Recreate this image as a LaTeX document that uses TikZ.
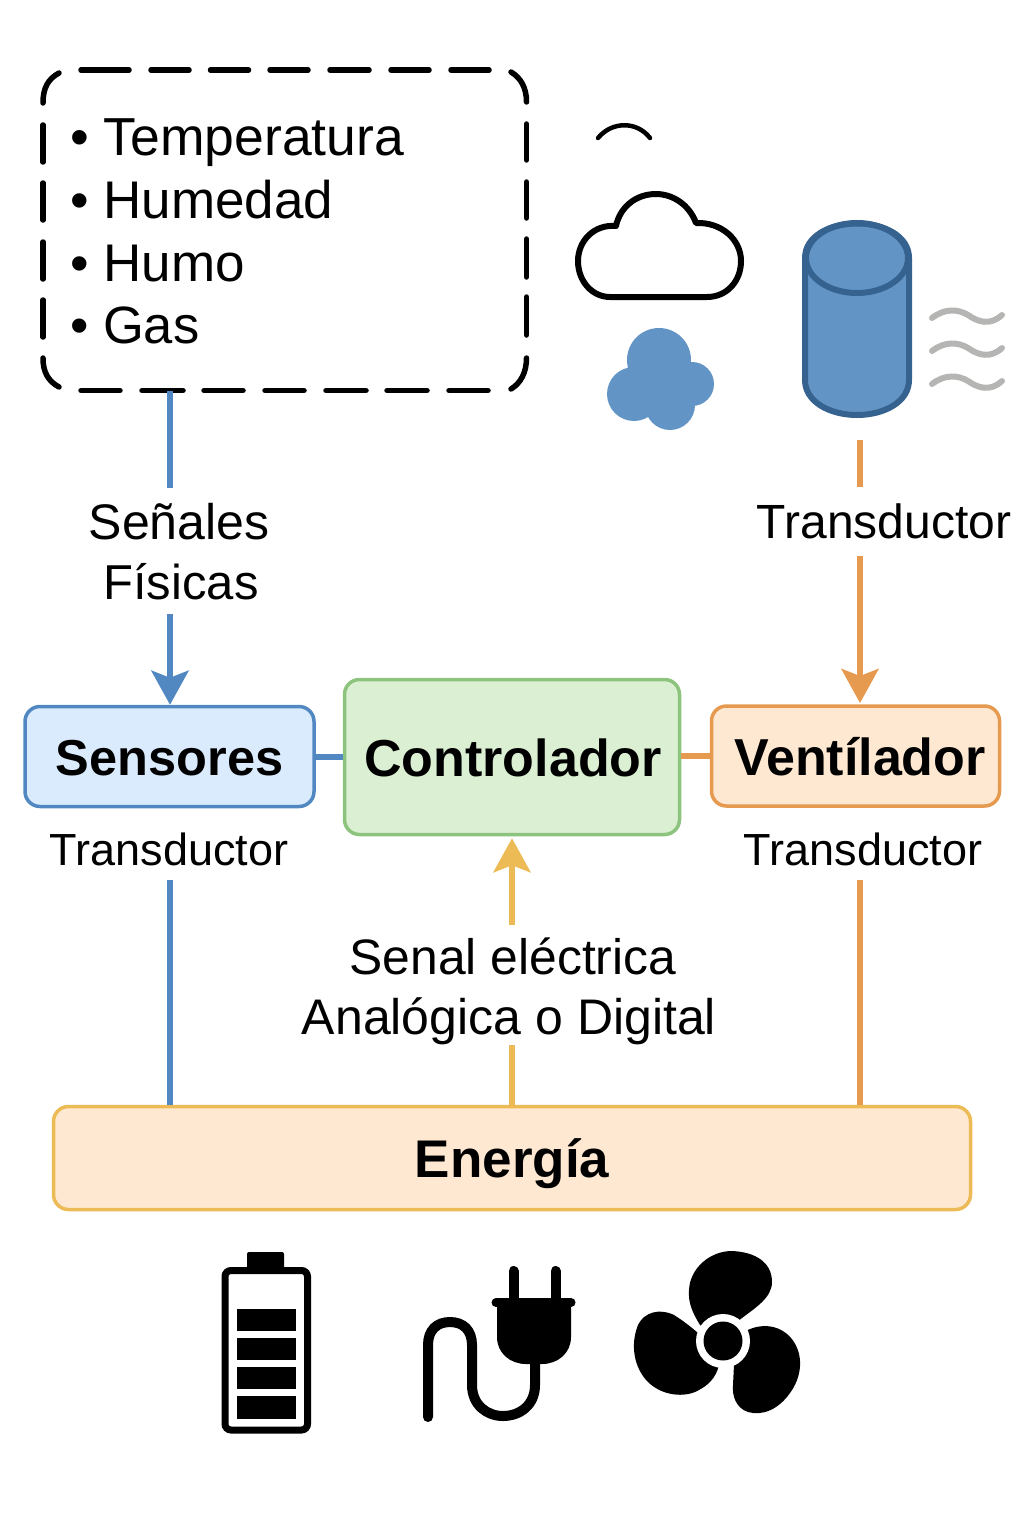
\documentclass[tikz,border=0pt]{standalone}
\usepackage{fontspec}
\setmainfont{Liberation Sans}
\usetikzlibrary{arrows.meta,calc}
\definecolor{cblue}{HTML}{5288C2}
\definecolor{cbluefill}{HTML}{DAEBFD}
\definecolor{cgreen}{HTML}{8CC47E}
\definecolor{cgreenfill}{HTML}{DBEFD3}
\definecolor{corange}{HTML}{E59A50}
\definecolor{corangefill}{HTML}{FEE8D1}
\definecolor{cyellow}{HTML}{EDBB55}
\definecolor{cyl}{HTML}{6295C6}
\definecolor{cyldark}{HTML}{36628F}
\definecolor{wavegrey}{HTML}{B5B5B3}
\tikzset{
  boxnode/.style={draw,rounded corners=15pt,line width=3.5pt,inner sep=0pt,
    text height=38pt,text depth=0pt,align=center},
  boxfont/.style={font=\fontsize{#1}{60}\selectfont\bfseries},
  listitem/.style={anchor=base west,inner sep=0pt,font=\fontsize{#1}{60}\selectfont},
  lab/.style={anchor=base,inner sep=0pt,font=\fontsize{#1}{60}\selectfont},
  conn/.style={line width=6pt},
  arrowconn/.style={line width=6pt,-{Stealth[length=34pt,width=37pt,inset=7pt]}},
  wave/.style={draw=wavegrey,line width=6pt,line cap=round},
  dashseg/.style={line width=5.5pt,line cap=round},
}
\begin{document}
\begin{tikzpicture}[x=1pt,y=-1pt]
\useasboundingbox (0,0) rectangle (1024,1536);

% dashed box, drawn dash by dash
\node[inner sep=0pt,minimum width=484pt,minimum height=321pt] (env) at (284.5,230.5) {};
\foreach \a/\b in {81/129,151/189,210.5/248.5,270/308,330/369,391/429,451/489}
  \draw[dashseg] (\a,70) -- (\b,70);
\foreach \a/\b in {81/120,142/183,204/243,265/304,326/366,387/427,449/488}
  \draw[dashseg] (\a,390.5) -- (\b,390.5);
\foreach \a/\b in {125/162,183/220,242/279,300/337}
  \draw[dashseg] (43,\a) -- (43,\b);
\foreach \a/\b in {124/160,182/218,239/277,297/335}
  \draw[dashseg] (526.5,\a) -- (526.5,\b);
\draw[dashseg] (43,103) .. controls (43,88) and (48,79) .. (59,73);
\draw[dashseg] (511,72) .. controls (521,78) and (526.5,88) .. (526.5,102);
\draw[dashseg] (43,358) .. controls (43,372) and (48,381) .. (59,387);
\draw[dashseg] (526.5,358) .. controls (526.5,372) and (521,383) .. (511,389);

\node[listitem=53.5] (t1) at (70,155) {• Temperatura};
\node[listitem=53] (t2) at (70,218) {• Humedad};
\node[listitem=53] (t3) at (70,281) {• Humo};
\node[listitem=52.5] (t4) at (70,343) {• Gas};

% main boxes
\node[boxnode,boxfont=50.5,draw=cblue,fill=cbluefill,minimum width=289pt,minimum height=100pt] (sens) at (169.5,756.5) {Sensores};
\node[boxnode,boxfont=52,draw=cgreen,fill=cgreenfill,minimum width=335pt,minimum height=155pt] (ctrl) at (512,757) {\hspace{2pt}Controlador};
\node[boxnode,boxfont=52,draw=corange,fill=corangefill,minimum width=288pt,minimum height=100pt] (vent) at (855.5,756) {\hspace{9pt}Ventílador};
\node[boxnode,boxfont=53,draw=cyellow,fill=corangefill,minimum width=917pt,minimum height=103pt] (ener) at (512,1158) {Energía};

% labels
\node[lab=50] (senales) at (179,539) {Señales};
\node[lab=49] (fisicas) at (181,599) {Físicas};
\node[lab=48] (transtop) at (884,538) {Transductor};
\node[lab=45] (transl) at (169,865) {Transductor};
\node[lab=45] (transr) at (863,865) {Transductor};
\node[lab=49.8] (senal) at (513,974) {Senal eléctrica};
\node[lab=50] (analog) at (509,1034) {Analógica o Digital};

% free ends
\coordinate (a1) at (170,488);
\coordinate (a2) at (170,614);
\coordinate (b1) at (860,440);
\coordinate (b2) at (860,487);
\coordinate (b3) at (860,556);
\coordinate (b4) at (860,703);
\coordinate (c1) at (170,880);
\coordinate (d1) at (860,880);
\coordinate (e1) at (512,1045);
\coordinate (e2) at (512,925);

% connectors
\draw[conn,draw=cblue] (env.south -| a1) -- (a1);
\draw[arrowconn,draw=cblue,fill=cblue] (a2) -- (a2 |- sens.north);
\draw[conn,draw=corange] (b1) -- (b2);
\draw[arrowconn,draw=corange,fill=corange] (b3) -- (b4);
\draw[conn,draw=cblue] (sens.east) -- (ctrl.west |- sens.east);
\draw[conn,draw=corange] (ctrl.east |- vent.west) -- (vent.west);
\draw[conn,draw=cblue] (c1) -- (c1 |- ener.north);
\draw[conn,draw=corange] (d1) -- (d1 |- ener.north);
\draw[conn,draw=cyellow] (ener.north) -- (e1);
\draw[arrowconn,draw=cyellow,fill=cyellow] (e2) -- ($(ctrl.south)+(0,2)$);

% small arc
\draw[line width=4.5pt,line cap=round] (598,138) .. controls (612,121) and (637,121) .. (650,138);

% cloud
\draw[line width=6pt,line join=round] (610,297) -- (707,297)
  .. controls (727,297) and (741,281) .. (741,261)
  .. controls (741,240) and (722,222) .. (696,223)
  .. controls (689,204) and (672,194) .. (656,194)
  .. controls (636,194) and (620,207) .. (616,226)
  .. controls (594,224) and (578,241) .. (578,261)
  .. controls (578,281) and (592,297) .. (610,297) -- cycle;

% smoke blob
\fill[cyl] (659,360) circle (32pt) (634,394) circle (27pt) (692,384) circle (22pt)
  (670,405) circle (25pt) (665,385) circle (27pt);

% cylinder
\draw[line width=6pt,draw=cyldark,fill=cyl]
  (805,258) -- (805,380) .. controls (805,402) and (830,415) .. (857,415)
  .. controls (884,415) and (909,402) .. (909,380) -- (909,258)
  .. controls (909,236) and (884,223.5) .. (857,223.5)
  .. controls (830,223.5) and (805,236) .. (805,258) -- cycle;
\draw[line width=6pt,draw=cyldark] (857,258) ellipse [x radius=51pt,y radius=35pt];

% waves
\foreach \dy in {0,33,66}{
  \draw[wave,yshift=-\dy pt] (932,318) .. controls (945,308) and (958,309) .. (968,315)
    .. controls (978,322) and (990,326) .. (1002,315);
}

% battery
\draw[line width=7pt,rounded corners=6pt] (225,1270.5) rectangle (307.5,1430);
\fill[rounded corners=2pt] (247,1252) rectangle (284,1272);
\fill (236.5,1309) rectangle (296,1331);
\fill (236.5,1338) rectangle (296,1360);
\fill (236.5,1367) rectangle (296,1389);
\fill (236.5,1396) rectangle (296,1419);

% plug
\draw[line width=10pt,line cap=round] (428,1417) -- (428,1345)
  .. controls (428,1330) and (437,1322) .. (450,1322)
  .. controls (463,1322) and (472,1330) .. (472,1345)
  -- (472,1385)
  .. controls (472,1405) and (487,1416) .. (503,1416)
  .. controls (520,1416) and (535,1405) .. (535,1385) -- (535,1355);
\draw[line width=10pt,line cap=round] (513.5,1271) -- (513.5,1300);
\draw[line width=10pt,line cap=round] (555.5,1271) -- (555.5,1300);
\draw[line width=9pt,line cap=round] (496,1302.5) -- (571,1302.5);
\fill (497,1303) -- (571,1303) -- (571,1337)
  .. controls (571,1353) and (558,1364) .. (542,1364) -- (526,1364)
  .. controls (510,1364) and (497,1353) .. (497,1337) -- cycle;

% fan
\fill (723,1341) -- (700,1325)
  .. controls (692,1312) and (688,1302) .. (689,1290)
  .. controls (690,1268) and (710,1251) .. (732,1251)
  .. controls (755,1252) and (772,1262) .. (772,1282)
  .. controls (772,1298) and (755,1308) .. (738,1321) -- cycle;
\fill (723,1341) -- (698,1333)
  .. controls (690,1326) and (682,1320) .. (674,1315)
  .. controls (660,1308) and (644,1312) .. (638,1325)
  .. controls (630,1345) and (634,1368) .. (648,1382)
  .. controls (660,1394) and (680,1398) .. (695,1392)
  .. controls (708,1386) and (716,1378) .. (719,1365) -- cycle;
\fill (723,1341) -- (750,1329)
  .. controls (768,1322) and (785,1328) .. (794,1342)
  .. controls (804,1358) and (801,1378) .. (790,1393)
  .. controls (778,1410) and (762,1416) .. (748,1412)
  .. controls (736,1408) and (732,1396) .. (733,1385)
  -- (734,1365) -- cycle;
\fill[white] (723,1341) circle (27pt);
\fill (723,1341) circle (19.5pt);
\end{tikzpicture}
\end{document}
